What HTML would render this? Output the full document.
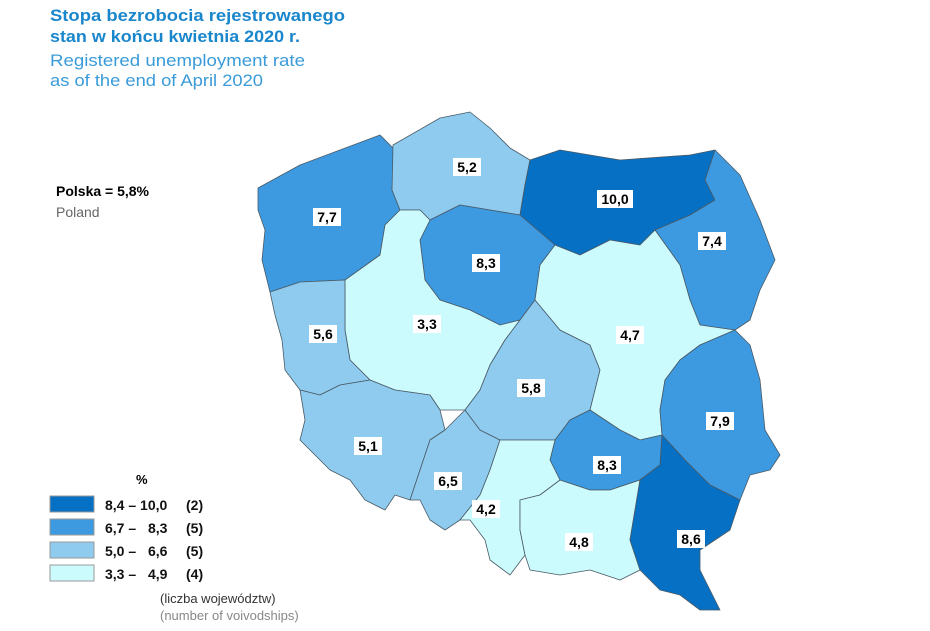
<!DOCTYPE html>
<html><head><meta charset="utf-8"><style>
body{margin:0;background:#fff;width:930px;height:631px;overflow:hidden;font-family:"Liberation Sans",sans-serif}
svg{position:absolute;left:0;top:0}
</style></head><body>
<svg width="930" height="631" viewBox="0 0 930 631">
<text x="50" y="21" font-size="17" font-weight="bold" fill="#1a86cc" textLength="295" lengthAdjust="spacingAndGlyphs">Stopa bezrobocia rejestrowanego</text>
<text x="50" y="42" font-size="17" font-weight="bold" fill="#1a86cc" textLength="250" lengthAdjust="spacingAndGlyphs">stan w końcu kwietnia 2020 r.</text>
<text x="50" y="66" font-size="17" fill="#3a9bd9" textLength="255" lengthAdjust="spacingAndGlyphs">Registered unemployment rate</text>
<text x="50" y="86" font-size="17" fill="#3a9bd9" textLength="213" lengthAdjust="spacingAndGlyphs">as of the end of April 2020</text>
<text x="56" y="196" font-size="14" font-weight="bold" fill="#000">Polska = 5,8%</text>
<text x="56" y="217" font-size="14" fill="#666">Poland</text>
<g stroke="#4a5a66" stroke-width="0.8" stroke-linejoin="round">
<polygon fill="#3d9ae0" points="258,188 300,165 380,135 395,150 392,190 400,210 385,225 380,255 345,280 300,282 270,292 262,260 265,230 258,210"/>
<polygon fill="#8ecbee" points="393,145 440,118 470,112 490,128 510,148 530,160 525,185 520,215 490,210 460,205 440,215 430,220 420,210 400,210 392,190"/>
<polygon fill="#0570c4" points="530,160 560,150 620,160 690,155 715,150 705,180 715,200 690,215 655,230 640,245 610,240 580,255 555,245 520,215 525,185"/>
<polygon fill="#3d9ae0" points="715,150 740,175 760,220 775,260 760,290 750,320 735,330 700,325 690,300 680,265 655,230 690,215 715,200 705,180"/>
<polygon fill="#3d9ae0" points="440,215 460,205 490,210 520,215 555,245 540,265 535,300 520,320 500,325 470,310 440,300 425,280 420,240 430,220"/>
<polygon fill="#ccfbfd" points="400,210 420,210 430,220 420,240 425,280 440,300 470,310 500,325 520,320 505,340 490,365 480,390 465,410 440,410 430,395 395,390 370,380 350,360 345,330 345,300 345,280 380,255 385,225"/>
<polygon fill="#8ecbee" points="270,292 300,282 345,280 345,300 345,330 350,360 370,380 340,385 320,395 300,390 285,370 282,340 275,315"/>
<polygon fill="#8ecbee" points="300,390 320,395 340,385 370,380 395,390 430,395 440,410 445,430 430,440 420,470 410,500 395,495 385,510 365,500 350,480 330,470 320,460 300,440 305,420"/>
<polygon fill="#8ecbee" points="445,430 465,410 480,430 500,440 490,470 480,495 460,520 445,530 430,520 420,500 410,500 420,470 430,440"/>
<polygon fill="#8ecbee" points="520,320 535,300 560,330 590,345 600,370 590,410 570,420 555,440 520,440 500,440 480,430 465,410 480,390 490,365 505,340"/>
<polygon fill="#ccfbfd" points="555,245 580,255 610,240 640,245 655,230 680,265 690,300 700,325 735,330 700,345 680,360 665,380 660,410 662,435 640,440 620,430 590,410 600,370 590,345 560,330 535,300 540,265"/>
<polygon fill="#3d9ae0" points="735,330 750,345 760,380 765,430 780,455 770,470 750,475 740,500 710,485 685,460 662,435 660,410 665,380 680,360 700,345"/>
<polygon fill="#3d9ae0" points="555,440 570,420 590,410 620,430 640,440 662,435 660,465 640,480 610,490 590,490 560,480 550,460"/>
<polygon fill="#ccfbfd" points="500,440 520,440 555,440 550,460 560,480 540,495 520,500 520,530 525,555 510,575 490,560 485,540 470,520 460,520 480,495 490,470"/>
<polygon fill="#ccfbfd" points="560,480 590,490 610,490 640,480 635,510 630,540 640,570 620,580 590,570 560,575 530,570 525,555 520,530 520,500 540,495"/>
<polygon fill="#0570c4" points="662,435 685,460 710,485 740,500 730,530 700,550 700,570 710,590 720,610 700,610 680,595 660,590 640,570 630,540 635,510 640,480 660,465"/>
</g>
<g font-size="14" font-weight="bold" text-anchor="middle">
<g fill="#fff"><rect x="313" y="208" width="28" height="18"/><rect x="453" y="158" width="28" height="18"/><rect x="597" y="190" width="36" height="18"/><rect x="698" y="232" width="28" height="18"/><rect x="472" y="254" width="28" height="18"/><rect x="413" y="315" width="28" height="18"/><rect x="309" y="325" width="28" height="18"/><rect x="616" y="326" width="28" height="18"/><rect x="517" y="379" width="28" height="18"/><rect x="706" y="412" width="28" height="18"/><rect x="354" y="437" width="28" height="18"/><rect x="593" y="456" width="28" height="18"/><rect x="434" y="472" width="28" height="18"/><rect x="472" y="500" width="28" height="18"/><rect x="565" y="533" width="28" height="18"/><rect x="677" y="530" width="28" height="18"/></g>
<text x="327" y="222">7,7</text><text x="467" y="172">5,2</text><text x="615" y="204">10,0</text><text x="712" y="246">7,4</text><text x="486" y="268">8,3</text><text x="427" y="329">3,3</text><text x="323" y="339">5,6</text><text x="630" y="340">4,7</text><text x="531" y="393">5,8</text><text x="720" y="426">7,9</text><text x="368" y="451">5,1</text><text x="607" y="470">8,3</text><text x="448" y="486">6,5</text><text x="486" y="514">4,2</text><text x="579" y="547">4,8</text><text x="691" y="544">8,6</text>
</g>
<text x="136" y="484" font-size="13" font-weight="bold">%</text>
<g stroke="#999" stroke-width="1">
<rect x="50" y="496" width="44" height="16" fill="#0570c4"/>
<rect x="50" y="519" width="44" height="16" fill="#3d9ae0"/>
<rect x="50" y="542" width="44" height="16" fill="#8ecbee"/>
<rect x="50" y="565" width="44" height="16" fill="#ccfbfd"/>
</g>
<g font-size="14" font-weight="bold" fill="#111">
<text x="105" y="510">8,4 – 10,0</text><text x="186" y="510">(2)</text>
<text x="105" y="533">6,7 –</text><text x="148" y="533">8,3</text><text x="186" y="533">(5)</text>
<text x="105" y="556">5,0 –</text><text x="148" y="556">6,6</text><text x="186" y="556">(5)</text>
<text x="105" y="579">3,3 –</text><text x="148" y="579">4,9</text><text x="186" y="579">(4)</text>
</g>
<text x="160" y="603" font-size="13" fill="#333">(liczba województw)</text>
<text x="160" y="620" font-size="13" fill="#888">(number of voivodships)</text>
</svg>
</body></html>
